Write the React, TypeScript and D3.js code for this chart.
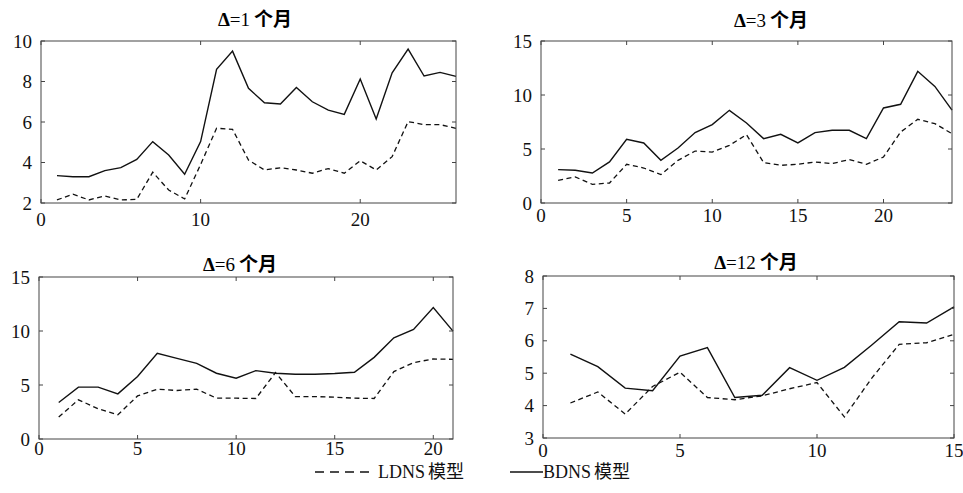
import React from 'react'
import * as d3 from 'd3'

// Δ=1个月
const x1 = d3.range(1, 27)
const bdns1 = [3.35, 3.3, 3.3, 3.6, 3.75, 4.15, 5.03, 4.37, 3.42, 5.03, 8.6, 9.5, 7.66, 6.95, 6.89, 7.7, 7.0, 6.59, 6.38, 8.12, 6.15, 8.43, 9.6, 8.27, 8.45, 8.25]
const ldns1 = [2.15, 2.44, 2.15, 2.35, 2.15, 2.18, 3.52, 2.64, 2.2, 3.9, 5.69, 5.64, 4.12, 3.63, 3.74, 3.63, 3.47, 3.7, 3.47, 4.09, 3.63, 4.29, 6.02, 5.87, 5.87, 5.69]

// Δ=3个月
const x3 = d3.range(1, 25)
const bdns3 = [3.09, 3.03, 2.78, 3.8, 5.9, 5.56, 3.95, 5.09, 6.52, 7.26, 8.58, 7.41, 5.96, 6.36, 5.56, 6.52, 6.73, 6.73, 5.96, 8.8, 9.14, 12.19, 10.8, 8.6]
const ldns3 = [2.1, 2.41, 1.73, 1.85, 3.58, 3.24, 2.63, 3.95, 4.81, 4.72, 5.34, 6.33, 3.74, 3.49, 3.58, 3.8, 3.65, 4.02, 3.58, 4.26, 6.57, 7.75, 7.35, 6.42]

// Δ=6个月
const x6 = d3.range(1, 22)
const bdns6 = [3.38, 4.8, 4.8, 4.18, 5.78, 7.93, 7.47, 7.01, 6.09, 5.63, 6.33, 6.09, 6.0, 6.0, 6.06, 6.18, 7.56, 9.37, 10.15, 12.18, 9.99]
const ldns6 = [2.03, 3.63, 2.8, 2.24, 3.99, 4.61, 4.49, 4.61, 3.78, 3.78, 3.75, 6.15, 3.93, 3.93, 3.87, 3.78, 3.75, 6.24, 7.07, 7.41, 7.38]

// Δ=12个月
const x12 = d3.range(1, 16)
const bdns12 = [5.59, 5.2, 4.54, 4.46, 5.53, 5.79, 4.25, 4.32, 5.17, 4.78, 5.18, 5.87, 6.59, 6.55, 7.05]
const ldns12 = [4.08, 4.42, 3.74, 4.59, 5.03, 4.25, 4.18, 4.3, 4.52, 4.71, 3.65, 4.85, 5.89, 5.94, 6.2]

const panels = [
  { title: '1', titleX: 255, titleY: 26, box: [41, 41, 456, 203], xDom: [0, 26], yDom: [2, 10], xTicks: [0, 10, 20], yTicks: [2, 4, 6, 8, 10], xs: x1, bdns: bdns1, ldns: ldns1, gap: 10 },
  { title: '3', titleX: 771, titleY: 27, box: [541, 41, 952, 203], xDom: [0, 24], yDom: [0, 15], xTicks: [0, 5, 10, 15, 20], yTicks: [0, 5, 10, 15], xs: x3, bdns: bdns3, ldns: ldns3, gap: 6 },
  { title: '6', titleX: 240, titleY: 271, box: [39, 277, 453, 439], xDom: [0, 21], yDom: [0, 15], xTicks: [0, 5, 10, 15, 20], yTicks: [0, 5, 10, 15], xs: x6, bdns: bdns6, ldns: ldns6, gap: 3 },
  { title: '12', titleX: 756, titleY: 269, box: [543, 276, 954, 438], xDom: [0, 15], yDom: [3, 8], xTicks: [0, 5, 10, 15], yTicks: [3, 4, 5, 6, 7, 8], xs: x12, bdns: bdns12, ldns: ldns12, gap: 6 },
]

const serif = "'Liberation Serif', 'DejaVu Serif', serif"
const cjk = "'Noto Sans CJK SC', sans-serif"

function Panel({ p }: { p: any }) {
  const [l, t, r, b] = p.box
  const x = d3.scaleLinear().domain(p.xDom).range([l, r])
  const y = d3.scaleLinear().domain(p.yDom).range([b, t])
  const line = d3.line<number>().x((d, i) => x(p.xs[i])).y(d => y(d))
  const tk = 4
  return (
    <g>
      <text x={p.titleX} y={p.titleY} textAnchor="middle" fill="#000" style={{ fontSize: 19 }}>
        <tspan style={{ fontFamily: serif, fontWeight: 'bold' }}>Δ</tspan>
        <tspan style={{ fontFamily: serif }}>={p.title}</tspan>
        <tspan style={{ fontFamily: cjk, fontWeight: 'bold' }} dx={4}>个月</tspan>
      </text>
      <path d={line(p.ldns) || ''} fill="none" stroke="#111" strokeWidth={1.3} strokeDasharray="5,3.5" />
      <path d={line(p.bdns) || ''} fill="none" stroke="#111" strokeWidth={1.4} />
      <rect x={l} y={t} width={r - l} height={b - t} fill="none" stroke="#444" strokeWidth={1} />
      {p.xTicks.map((v: number) => (
        <g key={'x' + v}>
          <line x1={x(v)} x2={x(v)} y1={b} y2={b - tk} stroke="#444" />
          <line x1={x(v)} x2={x(v)} y1={t} y2={t + tk} stroke="#444" />
          <text x={x(v)} y={b + p.gap + 13} textAnchor="middle" fill="#111" style={{ fontFamily: serif, fontSize: 19 }}>{v}</text>
        </g>
      ))}
      {p.yTicks.map((v: number) => (
        <g key={'y' + v}>
          <line x1={l} x2={l + tk} y1={y(v)} y2={y(v)} stroke="#444" />
          <line x1={r} x2={r - tk} y1={y(v)} y2={y(v)} stroke="#444" />
          <text x={l - 9} y={y(v) + 6.5} textAnchor="end" fill="#111" style={{ fontFamily: serif, fontSize: 19 }}>{v}</text>
        </g>
      ))}
    </g>
  )
}

export default function App() {
  return (
    <svg width={963} height={493} style={{ position: 'absolute', left: 0, top: 0, background: '#fff' }}>
      <rect width={963} height={493} fill="#fff" />
      {panels.map((p, i) => <Panel key={i} p={p} />)}
      {/* legend */}
      <line x1={315} x2={372} y1={472} y2={472} stroke="#111" strokeWidth={1.4} strokeDasharray="9,6" />
      <text x={378} y={478} fill="#111" style={{ fontSize: 18 }}>
        <tspan style={{ fontFamily: serif }}>LDNS</tspan>
        <tspan style={{ fontFamily: cjk }} dx={3}>模型</tspan>
      </text>
      <line x1={510} x2={543} y1={472} y2={472} stroke="#111" strokeWidth={1.4} />
      <text x={543} y={478} fill="#111" style={{ fontSize: 18 }}>
        <tspan style={{ fontFamily: serif }}>BDNS</tspan>
        <tspan style={{ fontFamily: cjk }} dx={3}>模型</tspan>
      </text>
    </svg>
  )
}
